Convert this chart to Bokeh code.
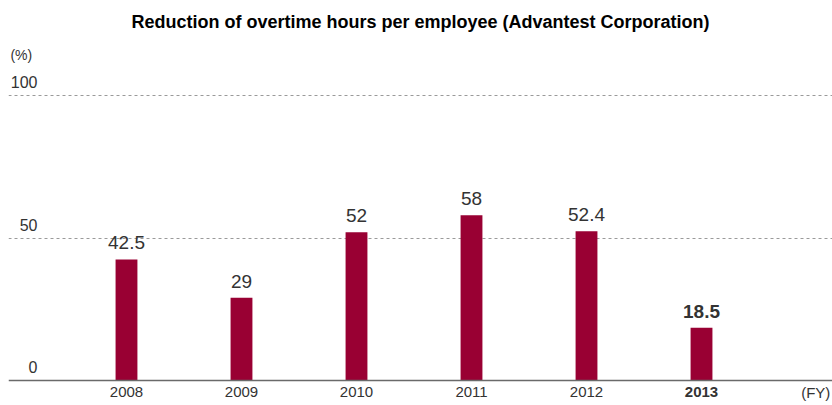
from bokeh.plotting import figure
from bokeh.models import ColumnDataSource, Range1d, FixedTicker, Grid, Span
from bokeh.core.properties import value
from bokeh.embed import file_html
from bokeh.resources import INLINE

years = ["2008", "2009", "2010", "2011", "2012", "2013"]
reduction = [42.5, 29, 52, 58, 52.4, 18.5]
value_labels = ["42.5", "29", "52", "58", "52.4", "18.5"]
y_ticks = [0, 50, 100]
y_tick_labels = ["0", "50", "100"]
x_unit_label = "(FY)"
y_unit_label = "(%)"

FONT = "Liberation Sans"
BAR = "#990033"
TXT = "#333333"

idx = list(range(len(years)))
weights = ["normal"] * (len(years) - 1) + ["bold"]
src = ColumnDataSource(dict(x=idx, top=reduction, lab=value_labels,
                            labtop=[v + 5.8 for v in reduction],
                            yr=years, wt=weights))

p = figure(width=832, height=405, output_backend="svg", toolbar_location=None,
           x_range=Range1d(-1.026, 6.139), y_range=Range1d(-8.77, 120),
           x_axis_location=None, y_axis_location=None,
           min_border_left=8, min_border_right=0, min_border_top=38, min_border_bottom=0,
           title="Reduction of overtime hours per employee (Advantest Corporation)")
p.outline_line_color = None
p.title.text_font = FONT
p.title.text_font_size = "18px"
p.title.text_font_style = "bold"
p.title.align = "center"
p.title.text_color = "#000000"
p.title.standoff = 14
p.title.offset = 0

for g in p.grid:
    g.visible = False

p.add_layout(Grid(dimension=1, ticker=FixedTicker(ticks=[50, 100]),
                  grid_line_color="#9a9a9a", grid_line_dash="3 3", grid_line_width=1))
p.add_layout(Span(location=0, dimension="width", line_color="#6a6a6a", line_width=1.5))

p.vbar(x="x", top="top", bottom=0, width=0.19, source=src, color=BAR, line_color=None)

# value labels
p.text(x="x", y="labtop", text="lab", source=src, text_align="center",
       text_baseline="middle", text_font=value(FONT), text_font_size="19px",
       text_color=TXT, text_font_style="wt")

# category labels
p.text(x="x", y=-4.2, text="yr", source=src, text_align="center", text_baseline="middle",
       text_font=value(FONT), text_font_size="15px", text_color=TXT, text_font_style="wt")
p.text(x=[6.12], y=[-4.2], text=[x_unit_label], text_align="right", text_baseline="middle",
       text_font=value(FONT), text_font_size="15px", text_color=TXT)

# y labels
p.text(x=[-0.774] * 3, y=[v + 4.7 for v in y_ticks], text=y_tick_labels, text_align="right",
       text_baseline="middle", text_font=value(FONT),
       text_font_size="16px", text_color=TXT)
p.text(x=[-1.009], y=[114.3], text=[y_unit_label], text_align="left",
       text_baseline="middle", text_font=value(FONT), text_font_size="14px",
       text_color=TXT)

open("out.html", "w").write(file_html(p, INLINE))
